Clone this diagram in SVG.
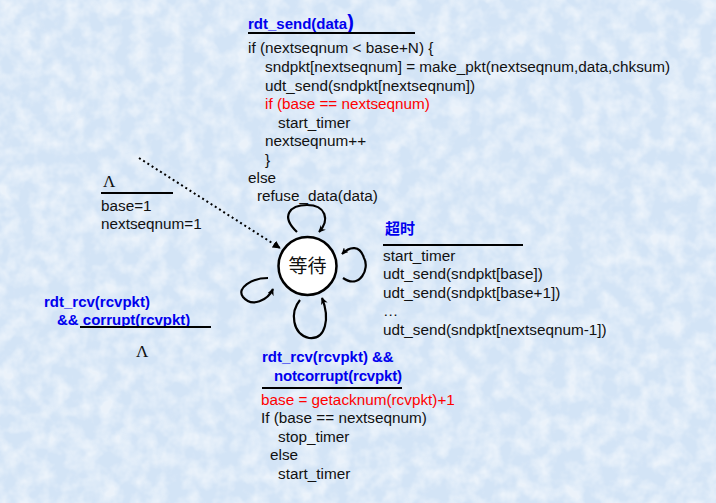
<svg xmlns="http://www.w3.org/2000/svg" width="716" height="503" viewBox="0 0 716 503">
<defs>
<filter id="noise" x="0" y="0" width="100%" height="100%">
<feTurbulence type="fractalNoise" baseFrequency="0.06" numOctaves="3" seed="4" result="t"/>
<feColorMatrix in="t" type="matrix" values="0 0 0 0 1  0 0 0 0 1  0 0 0 0 1  0 0 0 -2.2 1.45"/>
</filter>
<marker id="ah" viewBox="0 0 10 10" refX="9" refY="5" markerWidth="7" markerHeight="7" orient="auto" markerUnits="userSpaceOnUse">
<path d="M0 0 L10 5 L0 10 L3 5 Z" fill="#000"/>
</marker>
<marker id="ahd" viewBox="0 0 10 10" refX="9" refY="5" markerWidth="8" markerHeight="8" orient="auto" markerUnits="userSpaceOnUse">
<path d="M0 0 L10 5 L0 10 Z" fill="#000"/>
</marker>
</defs>
<style>
text{font-family:"Liberation Sans",Arial,sans-serif;font-size:15.3px;fill:#111}
.h{font-weight:bold;fill:#0000ee;font-size:15px}
.r{fill:#ff0000}
.lam{font-family:"Liberation Serif","Times New Roman",serif;font-size:17px}
.ul{stroke:#000;stroke-width:2}
.loop{fill:none;stroke:#000;stroke-width:2.2}
</style>
<rect width="716" height="503" fill="#d3e4f6"/>
<rect width="716" height="503" filter="url(#noise)" opacity="0.55"/>

<g id="connectors">
<path d="M139 158 L280 248" fill="none" stroke="#000" stroke-width="2" stroke-dasharray="2,3" marker-end="url(#ahd)"/>
<path class="loop" d="M297 232 C280 216 290 205 307 205 C326 205 330 220 319 232" marker-end="url(#ah)"/>
<path class="loop" d="M343 278 C360 290 370 268 364 258 C360 245 350 246 342 254" marker-end="url(#ah)"/>
<path class="loop" d="M268 278 C252 278 236 288 243 297 C252 308 268 300 273 289" marker-end="url(#ah)"/>
<path class="loop" d="M300 300 C290 312 292 334 309 338 C326 340 330 318 322 298" marker-end="url(#ah)"/>
</g>

<g id="state-wait">
<circle cx="307.5" cy="266" r="29" fill="#fff" stroke="#000" stroke-width="2.5"/>
<text x="307.5" y="273" text-anchor="middle" style="font-family:'Noto Sans CJK SC',sans-serif;font-size:19px">等待</text>
</g>

<g id="label-send">
<text x="248" y="29" class="h">rdt_send(data<tspan style="font-size:20px">)</tspan></text>
<line class="ul" x1="248" y1="33" x2="415" y2="33"/>
<text x="248" y="53">if (nextseqnum &lt; base+N) {</text>
<text x="265" y="72">sndpkt[nextseqnum] = make_pkt(nextseqnum,data,chksum)</text>
<text x="265" y="91">udt_send(sndpkt[nextseqnum])</text>
<text x="265" y="109" class="r">if (base == nextseqnum)</text>
<text x="278" y="128">start_timer</text>
<text x="265" y="146">nextseqnum++</text>
<text x="265" y="165">}</text>
<text x="248" y="183">else</text>
<text x="257" y="201">refuse_data(data)</text>
</g>

<g id="label-init">
<text x="103" y="187" class="lam">Λ</text>
<line class="ul" x1="101" y1="193" x2="173" y2="193"/>
<text x="101" y="211">base=1</text>
<text x="101" y="229">nextseqnum=1</text>
</g>

<g id="label-timeout">
<text x="385" y="234" class="h" style="font-family:'Noto Sans CJK SC',sans-serif">超时</text>
<line class="ul" x1="383" y1="245" x2="523" y2="245"/>
<text x="383" y="261">start_timer</text>
<text x="383" y="279">udt_send(sndpkt[base])</text>
<text x="383" y="298">udt_send(sndpkt[base+1])</text>
<text x="383" y="316">…</text>
<text x="383" y="335">udt_send(sndpkt[nextseqnum-1])</text>
</g>

<g id="label-corrupt">
<text x="44" y="307" class="h">rdt_rcv(rcvpkt)</text>
<text x="57" y="325" class="h">&amp;&amp; corrupt(rcvpkt)</text>
<line class="ul" x1="80" y1="327" x2="211" y2="327"/>
<text x="136" y="357" class="lam">Λ</text>
</g>

<g id="label-ack">
<text x="262" y="362" class="h">rdt_rcv(rcvpkt) &amp;&amp;</text>
<text x="274" y="381" class="h" textLength="128">notcorrupt(rcvpkt)</text>
<line class="ul" x1="262" y1="388" x2="402" y2="388"/>
<text x="261" y="405" class="r">base = getacknum(rcvpkt)+1</text>
<text x="261" y="423">If (base == nextseqnum)</text>
<text x="278" y="442">stop_timer</text>
<text x="270" y="460">else</text>
<text x="278" y="479">start_timer</text>
</g>
</svg>
